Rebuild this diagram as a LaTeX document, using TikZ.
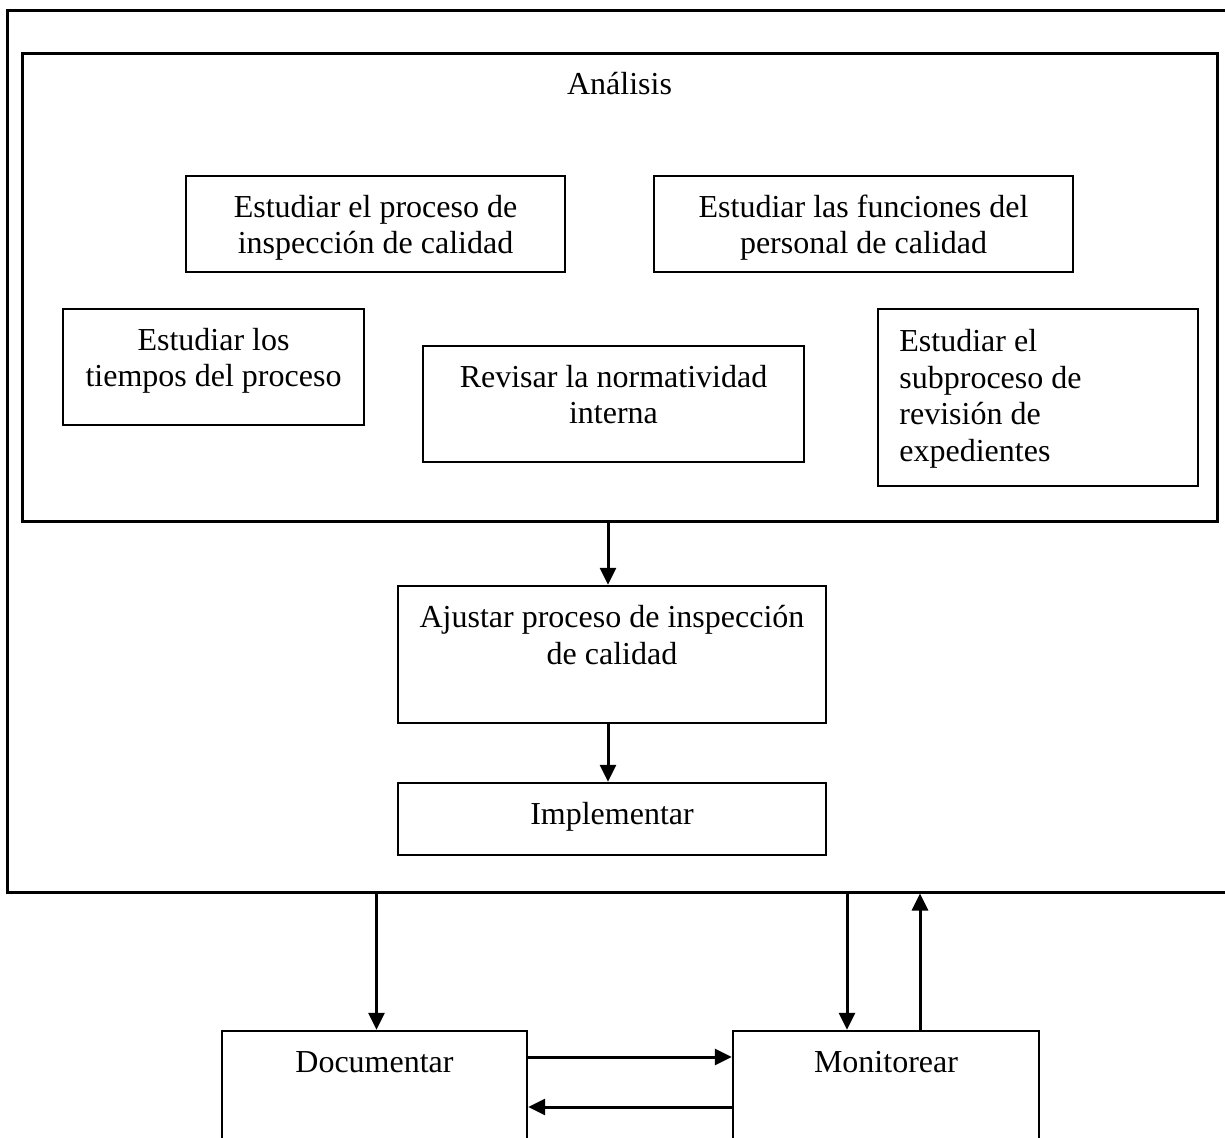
\documentclass[tikz,border=0pt]{standalone}
\usepackage{fontspec}
\setmainfont{Liberation Serif}
\usetikzlibrary{calc,arrows.meta}
% strut that fixes the height of the first text line
\newcommand\topstrut{\rule{0pt}{13pt}}
% rectangle node given by its corners: name, style, x1, y1, x2, y2
\newcommand\mkbox[6]{%
  \node[#2, minimum width={(#5-#3)*0.5pt}, minimum height={(#6-#4)*0.5pt}]
    (#1) at ({(#3+#5)/2},{(#4+#6)/2}) {};}
\begin{document}
\begin{tikzpicture}[x=0.5pt,y=-0.5pt,
  frame/.style={draw, line width=1.5pt, inner sep=0pt},
  stepbox/.style={draw, line width=1.2pt, inner sep=0pt},
  lbl/.style={inner sep=0pt, align=center, font=\fontsize{16}{18.4}\selectfont},
  flow/.style={line width=1.5pt, -{Triangle[length=8.5pt,width=8pt]}}]
\useasboundingbox (0,0) rectangle (1225,1138);
\clip (0,0) rectangle (1225,1138);
\fill[white] (0,0) rectangle (1225,1138);

% frames
\mkbox{outer}{frame}{7}{11}{1240}{892}
\mkbox{ana}{frame}{22}{54}{1217}{521}

% analysis tasks
\mkbox{b1}{stepbox}{186}{176}{565}{272}
\mkbox{b2}{stepbox}{654}{176}{1073}{272}
\mkbox{b3}{stepbox}{63}{309}{364}{425}
\mkbox{b4}{stepbox}{423}{346}{804}{462}
\mkbox{b5}{stepbox}{878}{309}{1198}{486}

% sequence
\mkbox{adj}{stepbox}{398}{586}{826}{723}
\mkbox{impl}{stepbox}{398}{783}{826}{855}
\mkbox{docu}{stepbox}{222}{1031}{527}{1170}
\mkbox{moni}{stepbox}{733}{1031}{1039}{1170}

% labels
\node[lbl, anchor=north] (tana) at ($(ana.north)+(0,16)$) {\topstrut Análisis};
\node[lbl, anchor=north] (t1) at ($(b1.north)+(0,16)$) {\topstrut Estudiar el proceso de\\inspección de calidad};
\node[lbl, anchor=north] (t2) at ($(b2.north)+(0,16)$) {\topstrut Estudiar las funciones del\\personal de calidad};
\node[lbl, anchor=north] (t3) at ($(b3.north)+(0,16)$) {\topstrut Estudiar los\\tiempos del proceso};
\node[lbl, anchor=north] (t4) at ($(b4.north)+(0,16)$) {\topstrut Revisar la normatividad\\interna};
\node[lbl, anchor=north west, align=left] (t5) at (899,325) {\topstrut Estudiar el\\subproceso de\\revisión de\\expedientes};
\node[lbl, anchor=north] (tadj) at ($(adj.north)+(0,16)$) {\topstrut Ajustar proceso de inspección\\de calidad};
\node[lbl, anchor=north] (timpl) at ($(impl.north)+(0,16)$) {\topstrut Implementar};
\node[lbl, anchor=north] (tdocu) at ($(docu.north)+(0,16)$) {\topstrut Documentar};
\node[lbl, anchor=north] (tmoni) at ($(moni.north)+(0,16)$) {\topstrut Monitorear};

% connectors
\coordinate (ax) at ($(adj.north)+(-4,0)$);
\draw[flow] (ax |- ana.south) -- (ax);
\draw[flow] (ax |- adj.south) -- (ax |- impl.north);
\coordinate (dx) at ($(docu.north)+(2,0)$);
\draw[flow] (dx |- outer.south) -- (dx);
\coordinate (mdown) at ($(moni.north)+(-39,0)$);
\coordinate (mup) at ($(moni.north)+(34,0)$);
\draw[flow] (mdown |- outer.south) -- (mdown);
\draw[flow] (mup) -- (mup |- outer.south);
\coordinate (h1) at (0,1057);
\coordinate (h2) at (0,1107);
\draw[flow] (docu.east |- h1) -- (moni.west |- h1);
\draw[flow] (moni.west |- h2) -- (docu.east |- h2);
\end{tikzpicture}
\end{document}
